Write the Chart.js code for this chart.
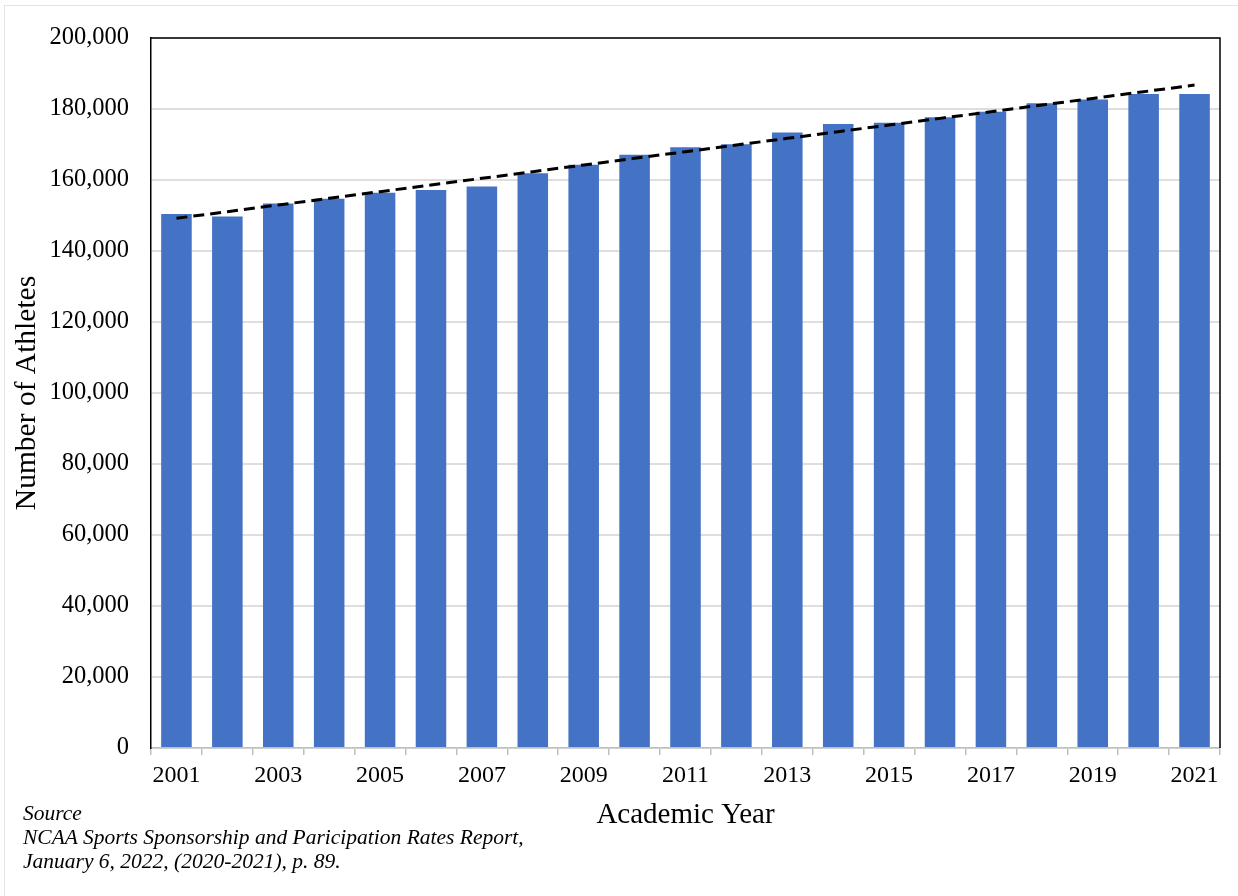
<!DOCTYPE html>
<html>
<head>
<meta charset="utf-8">
<script src="https://cdn.jsdelivr.net/npm/chart.js@4"></script>
<style>
    html, body { margin: 0; padding: 0; background: #fff; overflow: hidden; }
    #wrap { position: relative; width: 1238px; height: 896px; }
    #frame { position: absolute; left: 4px; top: 5px; width: 1240px; height: 900px; border: 1px solid #e3e3e3; }
    canvas { position: absolute; left: 0; top: 0; }
    .fonte { position: absolute; left: 23px; font: italic 21.5px "Liberation Serif", "Times New Roman", serif; color: #000; white-space: nowrap; line-height: 24px; }
</style>
</head>
<body>
<div id="wrap">
    <div id="frame"></div>
    <canvas id="grafico-atletas" width="1238" height="896"></canvas>
    <div class="fonte" style="top:801px">Source</div>
    <div class="fonte" style="top:825px">NCAA Sports Sponsorship and Paricipation Rates Report,</div>
    <div class="fonte" style="top:849px">January 6, 2022, (2020-2021), p. 89.</div>
</div>
<script>
const anos = ["2001", "2002", "2003", "2004", "2005", "2006", "2007", "2008", "2009", "2010", "2011",
    "2012", "2013", "2014", "2015", "2016", "2017", "2018", "2019", "2020", "2021"];
const atletas = [150400, 149700, 153400, 154700, 156400, 157200, 158200, 161900, 164300, 167100, 169200,
    170100, 173400, 175800, 176100, 177700, 179200, 181600, 182700, 184200, 184200];
const eixoY = [0, 20000, 40000, 60000, 80000, 100000, 120000, 140000, 160000, 180000, 200000];

const fonte = '"Liberation Serif", "Times New Roman", serif';

// linha de tendência linear (mínimos quadrados), como no Excel
function tendencia(valores) {
    let n = valores.length, sx = 0, sy = 0, sxy = 0, sxx = 0;
    valores.forEach((v, i) => { sx += i; sy += v; sxy += i * v; sxx += i * i; });
    let a = (n * sxy - sx * sy) / (n * sxx - sx * sx);
    let b = (sy - a * sx) / n;
    return valores.map((v, i) => a * i + b);
}

// bordas preta em cima e à direita da área do gráfico
const bordaPlot = {
    id: 'bordaPlot',
    afterDraw(chart) {
        const { ctx, chartArea: a } = chart;
        ctx.save();
        ctx.strokeStyle = '#000';
        ctx.lineWidth = 1.5;
        ctx.beginPath();
        ctx.moveTo(a.left, a.top);
        ctx.lineTo(a.right, a.top);
        ctx.lineTo(a.right, a.bottom);
        ctx.stroke();
        ctx.restore();
    }
};

const config = {
    data: {
        labels: anos,
        datasets: [{
            type: 'line',
            data: tendencia(atletas),
            borderColor: '#000',
            borderWidth: 3,
            borderDash: [11, 6],
            pointRadius: 0,
            fill: false,
            order: 0
        }, {
            type: 'bar',
            data: atletas,
            backgroundColor: '#4472C4',
            barPercentage: 0.6,
            categoryPercentage: 1,
            order: 1
        }]
    },
    options: {
        responsive: false,
        animation: false,
        layout: { padding: { top: 38, right: 18, bottom: 63, left: 10 } },
        plugins: {
            legend: { display: false },
            tooltip: { enabled: false }
        },
        scales: {
            x: {
                offset: true,
                grid: { offset: true, drawOnChartArea: false, tickLength: 7, color: '#bfbfbf', lineWidth: 1.5 },
                border: { color: '#bfbfbf', width: 1.5 },
                ticks: {
                    autoSkip: false,
                    maxRotation: 0,
                    padding: 6,
                    color: '#000',
                    font: { family: fonte, size: 24 },
                    callback: (v, i) => i % 2 === 0 ? anos[i] : ''
                },
                title: {
                    display: true,
                    text: 'Academic Year',
                    color: '#000',
                    font: { family: fonte, size: 29 },
                    padding: 0
                },
                afterFit: (scale) => { scale.height = 85; }
            },
            y: {
                min: 0,
                max: 200000,
                afterBuildTicks: (scale) => { scale.ticks = eixoY.map(v => ({ value: v })); },
                grid: { drawTicks: false, color: '#dedede', lineWidth: 2 },
                border: { color: '#000', width: 1.5 },
                ticks: {
                    padding: 22,
                    color: '#000',
                    font: { family: fonte, size: 24.5 },
                    callback: (v) => v.toLocaleString('en-US')
                },
                title: {
                    display: true,
                    text: 'Number of Athletes',
                    color: '#000',
                    font: { family: fonte, size: 29.5 },
                    padding: 0
                },
                afterFit: (scale) => { scale.width = 141; }
            }
        }
    },
    plugins: [bordaPlot]
};

new Chart(document.getElementById('grafico-atletas'), config);
</script>
</body>
</html>
